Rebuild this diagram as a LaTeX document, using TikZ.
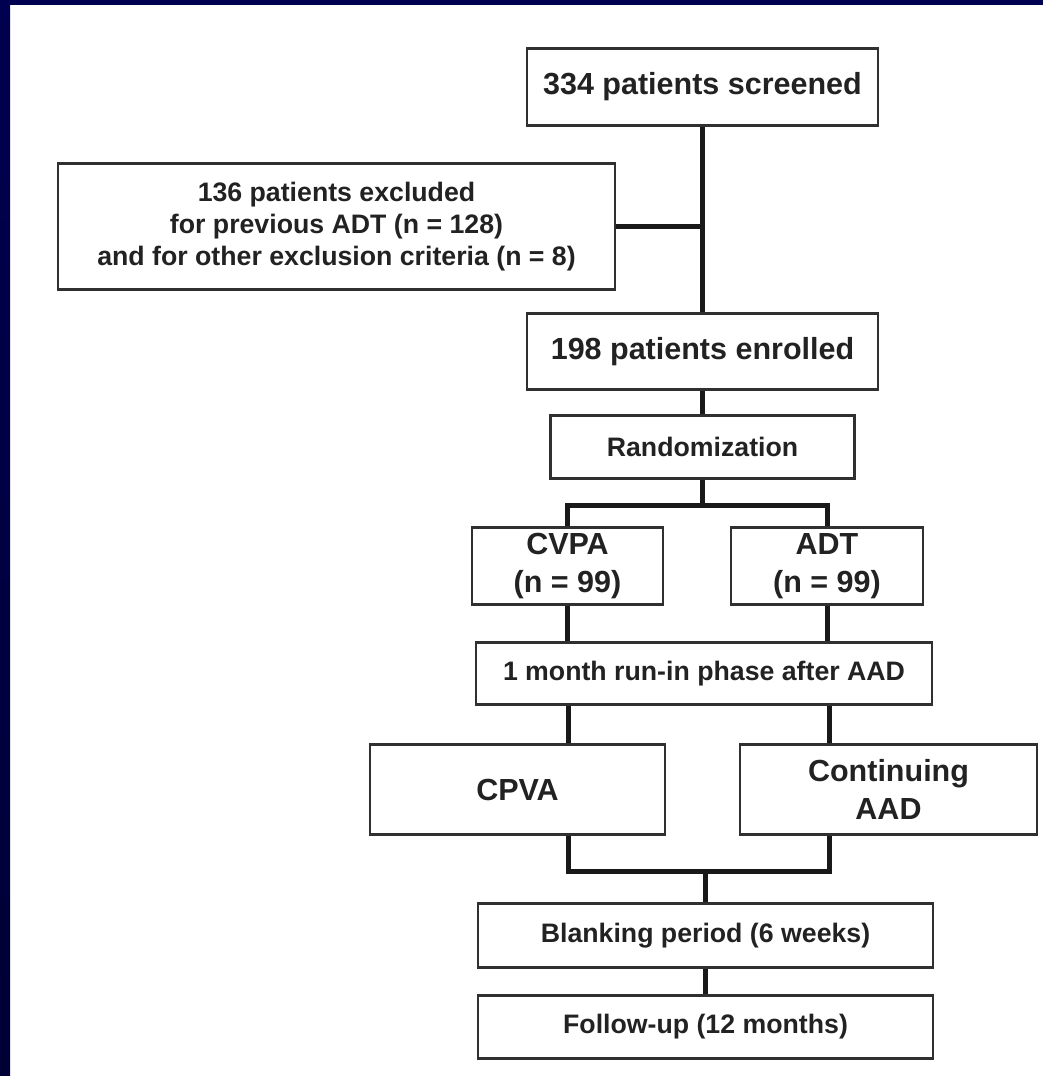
\documentclass[tikz,border=0pt]{standalone}
\usepackage{fontspec}
\setmainfont{Liberation Sans}
\definecolor{navytop}{HTML}{000050}
\definecolor{navymid}{HTML}{000098}
\definecolor{navybot}{HTML}{000035}
\definecolor{boxline}{HTML}{303030}
\definecolor{txt}{HTML}{222222}
\begin{document}
\begin{tikzpicture}[x=1pt,y=-1pt,
  box/.style={draw=boxline,line width=2.2pt,fill=white,rectangle,inner sep=0pt,align=center,text=txt},
  big/.style={font=\bfseries\fontsize{30.5}{38}\selectfont},
  small/.style={font=\bfseries\fontsize{26.7}{32}\selectfont},
  conn/.style={draw=black!90,line width=5pt}]
\useasboundingbox (0,0) rectangle (1043,1076);
\fill[white] (0,0) rectangle (1043,1076);
\shade[top color=navytop,middle color=navymid,bottom color=navybot] (0,0) rectangle (10,1076);
\fill[navytop] (0,0) rectangle (1043,5);

% boxes
\node[box,big,minimum width=351,minimum height=77] (scr) at (702.5,87) {334 patients screened};
\node[box,small,minimum width=557,minimum height=126] (exc) at (336.5,226.5) {136 patients excluded\\for previous ADT (n = 128)\\and for other exclusion criteria (n = 8)};
\node[box,big,minimum width=351,minimum height=76] (enr) at (702.5,351.5) {198 patients enrolled};
\node[box,small,minimum width=304,minimum height=63] (rnd) at (702.5,447) {Randomization};
\node[box,big,minimum width=191,minimum height=77] (cvpa) at (567.5,566) {CVPA\\(n = 99)};
\node[box,big,minimum width=192,minimum height=77] (adt) at (827,566) {ADT\\(n = 99)};
\node[box,small,minimum width=456,minimum height=62] (run) at (704,673.5) {1 month run-in phase after AAD};
\node[box,big,minimum width=295,minimum height=90] (cpva) at (517.5,789.5) {CPVA};
\node[box,big,minimum width=297,minimum height=90] (cont) at (888.5,789.5) {Continuing\\AAD};
\node[box,small,minimum width=455,minimum height=64] (blank) at (705.5,935.5) {Blanking period (6 weeks)};
\node[box,small,minimum width=455,minimum height=63] (fol) at (705.5,1027) {Follow-up (12 months)};

% coordinates
\coordinate (xl) at (568,0);
\coordinate (xr) at (829,0);
\coordinate (split) at (702.5,505);
\coordinate (merge) at (705.5,871);

% connectors
\draw[conn] (scr.south) -- (enr.north);
\draw[conn] (exc.east) -- (exc.east -| scr.south);
\draw[conn] (enr.south) -- (rnd.north);
\draw[conn] (rnd.south) -- (split);
\draw[conn] (cvpa.north) |- (split) -| (adt.north);
\draw[conn] (cvpa.south) -- (cvpa.south |- run.north);
\draw[conn] (adt.south) -- (adt.south |- run.north);
\draw[conn] (run.south -| xl) -- (cpva.north -| xl);
\draw[conn] (run.south -| xr) -- (cont.north -| xr);
\draw[conn] (cpva.south -| xl) |- (merge) -| (cont.south -| xr);
\draw[conn] (merge) -- (blank.north);
\draw[conn] (blank.south) -- (fol.north);
\end{tikzpicture}
\end{document}
